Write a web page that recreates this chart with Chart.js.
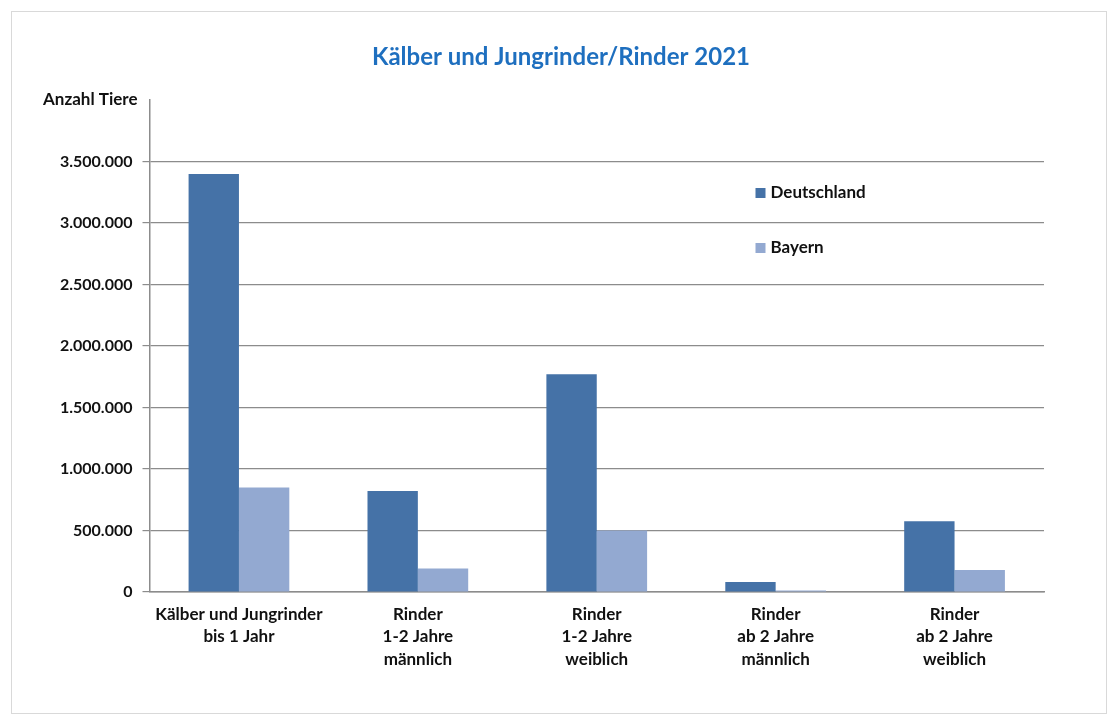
<!DOCTYPE html>
<html>
<head>
<meta charset="utf-8">
<script src="https://cdn.jsdelivr.net/npm/chart.js@4/dist/chart.umd.min.js"></script>
<style>
  html, body { margin: 0; padding: 0; background: #fff; }
  #wrap { position: relative; width: 1117px; height: 724px; }
  #frame { position: absolute; left: 11px; top: 11px; width: 1094px; height: 701px; border: 1px solid #d9d9d9; }
  canvas { position: absolute; left: 0; top: 0; }
</style>
</head>
<body>
<div id="wrap">
  <div id="frame"></div>
  <canvas id="myChart" width="1117" height="724"></canvas>
</div>
<script>
// Kategorien (mehrzeilige Beschriftung)
const kategorien = [
  ['Kälber und Jungrinder', 'bis 1 Jahr'],
  ['Rinder', '1-2 Jahre', 'männlich'],
  ['Rinder', '1-2 Jahre', 'weiblich'],
  ['Rinder', 'ab 2 Jahre', 'männlich'],
  ['Rinder', 'ab 2 Jahre', 'weiblich']
];
const deutschland = [3399000, 821000, 1770000, 81000, 575000];
const bayern = [850000, 192000, 499000, 13000, 179000];

const titel = 'Kälber und Jungrinder/Rinder 2021';
const achsenTitel = 'Anzahl Tiere';

const fontFamily = 'Lato, "Liberation Sans", sans-serif';

// Zahl mit Punkt als Tausendertrenner
function formatDE(v) {
  return String(Math.round(v)).replace(/\B(?=(\d{3})+(?!\d))/g, '.');
}

// Titel, Achsentitel und Legende selbst zeichnen
const extras = {
  id: 'extras',
  afterDraw(chart) {
    const ctx = chart.ctx;
    const area = chart.chartArea;
    ctx.save();
    ctx.fillStyle = '#1E6FBF';
    ctx.font = 'bold 24px ' + fontFamily;
    ctx.textAlign = 'center';
    ctx.textBaseline = 'middle';
    ctx.fillText(titel, 561, 57);

    ctx.fillStyle = '#111';
    ctx.font = 'bold 17px ' + fontFamily;
    ctx.textAlign = 'right';
    ctx.fillText(achsenTitel, area.left - 12, 100);

    ctx.textAlign = 'left';
    chart.data.datasets.forEach((ds, i) => {
      const x = area.left + 606;
      const y = 193 + i * 55;
      ctx.fillStyle = ds.backgroundColor;
      ctx.fillRect(x, y - 5, 10, 10);
      ctx.fillStyle = '#111';
      ctx.fillText(ds.label, x + 15, y);
    });
    ctx.restore();
  }
};

var chartArea = document.getElementById('myChart').getContext('2d');

var myChart = new Chart(chartArea, {
  type: 'bar',
  data: {
    labels: kategorien,
    datasets: [
      {
        label: 'Deutschland',
        data: deutschland,
        backgroundColor: '#4572A7'
      },
      {
        label: 'Bayern',
        data: bayern,
        backgroundColor: '#93A9D1'
      }
    ]
  },
  plugins: [extras],
  options: {
    responsive: false,
    animation: false,
    layout: { padding: { left: 0, top: 100, right: 73, bottom: 0 } },
    datasets: {
      bar: { categoryPercentage: 0.563, barPercentage: 1.0 }
    },
    plugins: {
      legend: { display: false },
      title: { display: false },
      tooltip: { enabled: false }
    },
    scales: {
      x: {
        afterFit(scale) { scale.height = 132; },
        grid: { drawOnChartArea: false, drawTicks: false },
        border: { color: '#8c8c8c', width: 1.5 },
        ticks: {
          color: '#111',
          padding: 11,
          maxRotation: 0,
          autoSkip: false,
          font: { family: fontFamily, size: 17, weight: 'bold', lineHeight: '22.5px' }
        }
      },
      y: {
        min: 0,
        max: 4000000,
        afterFit(scale) { scale.width = 149.5; },
        // oberste Marke (4.000.000) wird nicht beschriftet
        afterBuildTicks(axis) {
          axis.ticks = axis.ticks.filter(t => t.value < 4000000);
        },
        grid: { color: '#8c8c8c', lineWidth: 1.2, tickLength: 7 },
        border: { color: '#8c8c8c', width: 1.5 },
        ticks: {
          stepSize: 500000,
          color: '#111',
          padding: 10,
          font: { family: fontFamily, size: 16, weight: 'bold' },
          callback: (v) => formatDE(v)
        }
      }
    }
  }
});
</script>
</body>
</html>
